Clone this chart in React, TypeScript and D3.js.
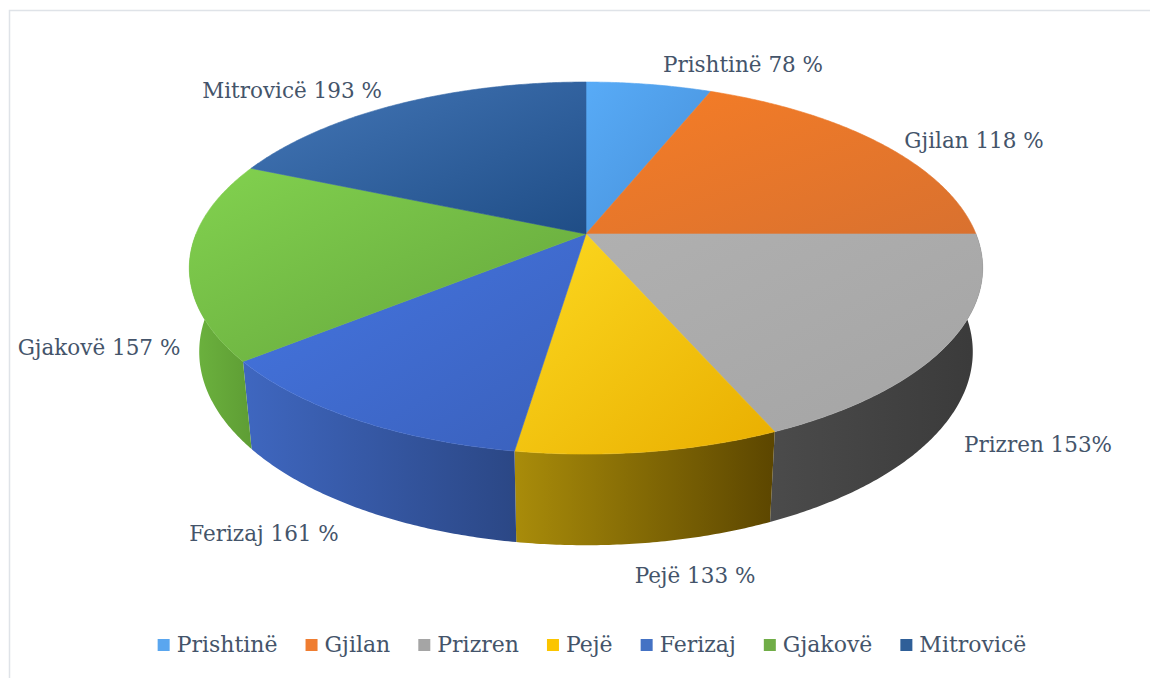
import React, { useEffect, useRef } from 'react';
import * as d3 from 'd3';

// city names, label text and the slice shares
const names = ['Prishtinë', 'Gjilan', 'Prizren', 'Pejë', 'Ferizaj', 'Gjakovë', 'Mitrovicë'];
const labelValues = ['78 %', '118 %', '153%', '133 %', '161 %', '157 %', '193 %'];
const sliceShares = [6.1, 18.9, 18.4, 9.0, 11.8, 17.2, 18.6];

// top face colours: light, dark
const topColors = [
  ['#58abf7', '#468fd8'],
  ['#f67d26', '#d9712f'],
  ['#b0b0b0', '#a4a4a4'],
  ['#fcd920', '#e9ae00'],
  ['#4576e2', '#3a60bb'],
  ['#82d24f', '#64a43b'],
  ['#4477b8', '#1f4d86'],
];
// side wall colours: left, right
const wallColors = [
  ['#3f7fc0', '#34689e'],
  ['#c4631f', '#a95520'],
  ['#4b4b4b', '#3a3a3a'],
  ['#a98c0a', '#5c4600'],
  ['#3f67c0', '#2b4785'],
  ['#6db43f', '#5e9d34'],
  ['#2d5c96', '#224978'],
];
const legendColors = ['#5aa6ef', '#ef7d31', '#a5a5a5', '#fbc500', '#4472c4', '#70ad47', '#2f5f98'];

// label placement (text centre x, baseline y)
const labelAt = [[743, 72], [974, 148], [1038, 452], [695, 583], [264, 541], [99, 355], [292, 98]];

const W = 1150, H = 678;
const cx = 586, cy = 234, RX = 390, RY = 179.8, K = 0.183, DEPTH = 82.4, SHRINK = 0.975;
const textColor = '#44546a';
const font = '"DejaVu Serif", serif';

function topPt(t: number): [number, number] {
  const X = Math.sin(t), Z = -Math.cos(t);
  const w = 1 - K * Z;
  return [cx + RX * X / w, cy + RY * Z / w];
}
function botPt(t: number): [number, number] {
  const X = Math.sin(t), Z = -Math.cos(t);
  const w = 1 - K * Z;
  return [cx + SHRINK * RX * X / w, cy + RY * Z / w + DEPTH / Math.sqrt(w)];
}
function arcPts(f: (t: number) => [number, number], a: number, b: number) {
  const n = Math.max(2, Math.ceil((b - a) / (Math.PI / 360)));
  return d3.range(n + 1).map(i => f(a + (b - a) * i / n));
}

export default function App() {
  const ref = useRef<SVGSVGElement>(null);

  useEffect(() => {
    const svg = d3.select(ref.current);
    svg.selectAll('*').remove();

    const defs = svg.append('defs');
    topColors.forEach((c, i) => {
      const g = defs.append('linearGradient').attr('id', 'top' + i)
        .attr('x1', 0).attr('y1', 0).attr('x2', 1).attr('y2', 1);
      g.append('stop').attr('offset', '0%').attr('stop-color', c[0]);
      g.append('stop').attr('offset', '100%').attr('stop-color', c[1]);
    });
    wallColors.forEach((c, i) => {
      const g = defs.append('linearGradient').attr('id', 'wall' + i)
        .attr('x1', 0).attr('y1', 0).attr('x2', 1).attr('y2', 0);
      g.append('stop').attr('offset', '0%').attr('stop-color', c[0]);
      g.append('stop').attr('offset', '100%').attr('stop-color', c[1]);
    });

    // frame
    svg.append('rect').attr('x', 9.5).attr('y', 10.5).attr('width', W).attr('height', H)
      .attr('fill', 'none').attr('stroke', '#dfe3e8').attr('stroke-width', 1.5);

    const arcs = d3.pie<number>().sort(null).value(d => d)(sliceShares);
    const line = d3.line();

    // side walls (front half only)
    const front0 = Math.PI / 2, front1 = Math.PI * 1.5;
    arcs.forEach((a, i) => {
      const s = Math.max(a.startAngle, front0), e = Math.min(a.endAngle, front1);
      if (e <= s) return;
      const pts = arcPts(topPt, s, e).concat(arcPts(botPt, s, e).reverse());
      svg.append('path').attr('d', line(pts) + 'Z')
        .attr('fill', `url(#wall${i})`);
    });

    // top faces
    arcs.forEach((a, i) => {
      const pts = [[cx, cy] as [number, number]].concat(arcPts(topPt, a.startAngle, a.endAngle));
      svg.append('path').attr('d', line(pts) + 'Z')
        .attr('fill', `url(#top${i})`)
        .attr('stroke', `url(#top${i})`).attr('stroke-width', 0.6);
    });

    // data labels
    names.forEach((n, i) => {
      svg.append('text').attr('x', labelAt[i][0]).attr('y', labelAt[i][1])
        .attr('text-anchor', 'middle').attr('font-family', font).attr('font-size', 21.5)
        .attr('fill', textColor).text(`${n} ${labelValues[i]}`);
    });

    // legend, laid out from the text widths and centred
    const lg = svg.append('g');
    let x = 0;
    names.forEach((n, i) => {
      lg.append('rect').attr('x', x).attr('y', 639).attr('width', 12).attr('height', 12)
        .attr('fill', legendColors[i]);
      const t = lg.append('text').attr('x', x + 19).attr('y', 652)
        .attr('font-family', font).attr('font-size', 22).attr('fill', textColor).text(n);
      const w = (t.node() as SVGTextElement).getComputedTextLength();
      x += 19 + w + 28;
    });
    const total = x - 28;
    lg.attr('transform', `translate(${592 - total / 2},0)`);
  }, []);

  return (
    <svg ref={ref} width={W} height={H}
      style={{ position: 'absolute', left: 0, top: 0, background: '#fff' }} />
  );
}
